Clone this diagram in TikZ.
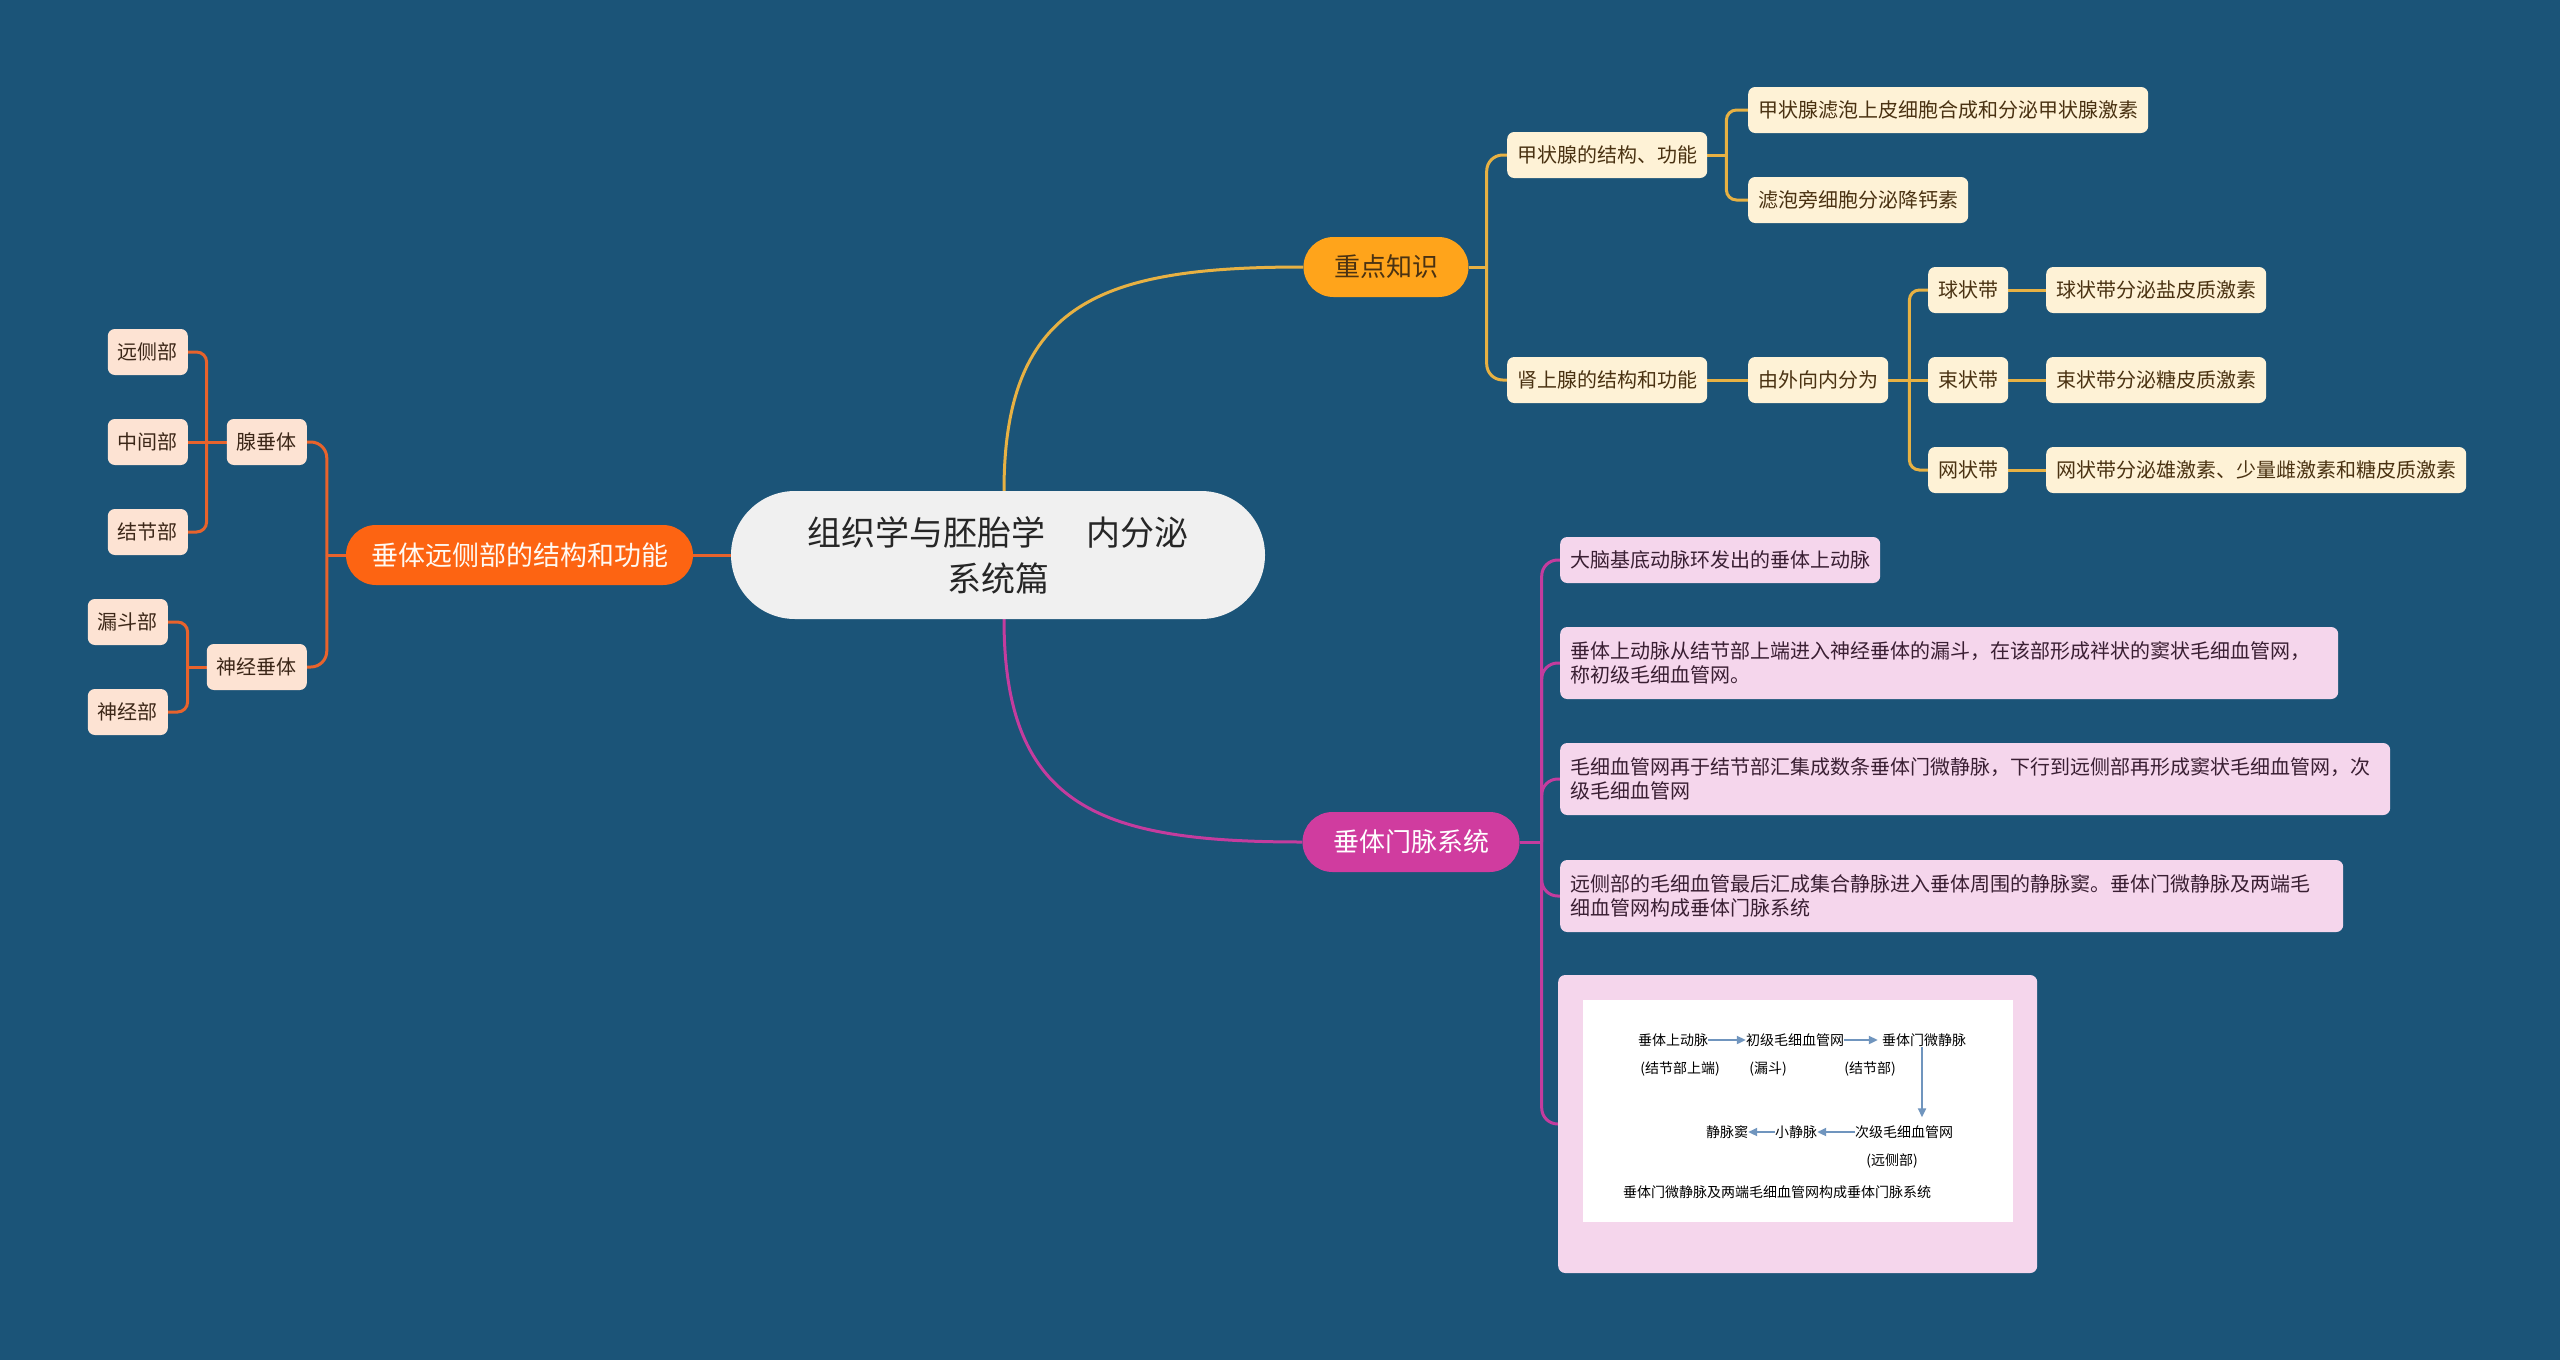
\documentclass[tikz,border=0pt]{standalone}
\usepackage{fontspec}
\setmainfont{Noto Sans CJK SC}
\usetikzlibrary{arrows.meta}
\definecolor{bgc}{HTML}{1B5478}
\definecolor{ylwline}{HTML}{E7B143}
\definecolor{ylwmain}{HTML}{FFA41B}
\definecolor{cream}{HTML}{FEF2D6}
\definecolor{ytext}{HTML}{4A3212}
\definecolor{orgline}{HTML}{E8632C}
\definecolor{orgmain}{HTML}{FD6412}
\definecolor{peach}{HTML}{FDE3D3}
\definecolor{ptext}{HTML}{3C2718}
\definecolor{magline}{HTML}{C43C9E}
\definecolor{magmain}{HTML}{D03C9F}
\definecolor{pink}{HTML}{F5D6EC}
\definecolor{mtext}{HTML}{3A1F33}
\definecolor{rootfill}{HTML}{F0F0F0}
\definecolor{arrc}{HTML}{7095BE}
\pgfdeclarelayer{bglayer}
\pgfsetlayers{bglayer,main}
\begin{document}
\begin{tikzpicture}[x=1pt,y=-1pt,
  every node/.style={font=\fontsize{20}{24}\selectfont, inner sep=0pt},
  basebox/.style={rectangle, rounded corners=7, minimum height=46, inner xsep=10, inner ysep=0},
  ysub/.style={basebox, fill=cream, text=ytext},
  psub/.style={basebox, fill=peach, text=ptext},
  msub/.style={basebox, fill=pink, text=mtext, align=left},
  mainbox/.style={rectangle, rounded corners=30, minimum height=60},
  ylw/.style={draw=ylwline, line width=3},
  org/.style={draw=orgline, line width=3},
  mag/.style={draw=magline, line width=3},
  itxt/.style={font=\fontsize{14}{16}\selectfont, text=black},
  arr/.style={draw=arrc, line width=2, -{Triangle[length=9,width=8]}}
]
\useasboundingbox (0,0) rectangle (2560,1360);

% root
\node[rectangle, rounded corners=64, fill=rootfill, minimum width=534, minimum height=128,
      text=black!85, align=center, font=\fontsize{34}{46}\selectfont] (root) at (998,555)
      {组织学与胚胎学\hspace{42pt}内分泌\\系统篇};

% main branches
\node[mainbox, fill=ylwmain, text=ytext, minimum width=165, font=\fontsize{26}{30}\selectfont] (zd) at (1386,267) {重点知识};
\node[mainbox, fill=magmain, text=white, minimum width=217, font=\fontsize{26}{30}\selectfont] (ct) at (1411,842) {垂体门脉系统};
\node[mainbox, fill=orgmain, text=white!95!orange, minimum width=347, font=\fontsize{27}{31}\selectfont] (yc) at (519.5,555) {垂体远侧部的结构和功能};

% yellow subs
\node[ysub, anchor=west] (y1) at (1507,155) {甲状腺的结构、功能};
\node[ysub, anchor=west] (y11) at (1748,110) {甲状腺滤泡上皮细胞合成和分泌甲状腺激素};
\node[ysub, anchor=west] (y12) at (1748,200) {滤泡旁细胞分泌降钙素};
\node[ysub, anchor=west] (y2) at (1507,380) {肾上腺的结构和功能};
\node[ysub, anchor=west] (y21) at (1748,380) {由外向内分为};
\node[ysub, anchor=west] (y211) at (1928,290) {球状带};
\node[ysub, anchor=west] (y212) at (2046,290) {球状带分泌盐皮质激素};
\node[ysub, anchor=west] (y221) at (1928,380) {束状带};
\node[ysub, anchor=west] (y222) at (2046,380) {束状带分泌糖皮质激素};
\node[ysub, anchor=west] (y231) at (1928,470) {网状带};
\node[ysub, anchor=west] (y232) at (2046,470) {网状带分泌雄激素、少量雌激素和糖皮质激素};

% peach subs
\node[psub, anchor=east] (p1) at (307,442) {腺垂体};
\node[psub, anchor=east] (p2) at (307,667) {神经垂体};
\node[psub, anchor=east] (p11) at (188,352) {远侧部};
\node[psub, anchor=east] (p12) at (188,442) {中间部};
\node[psub, anchor=east] (p13) at (188,532) {结节部};
\node[psub, anchor=east] (p21) at (168,622) {漏斗部};
\node[psub, anchor=east] (p22) at (168,712) {神经部};

% magenta subs
\node[msub, anchor=west] (m1) at (1560,560) {大脑基底动脉环发出的垂体上动脉};
\node[msub, anchor=west, text width=758, minimum height=72] (m2) at (1560,663)
  {垂体上动脉从结节部上端进入神经垂体的漏斗，在该部形成袢状的窦状毛细血管网，\\称初级毛细血管网。};
\node[msub, anchor=west, text width=810, minimum height=72] (m3) at (1560,779)
  {毛细血管网再于结节部汇集成数条垂体门微静脉，下行到远侧部再形成窦状毛细血管网，次\\级毛细血管网};
\node[msub, anchor=west, text width=763, minimum height=72] (m4) at (1560,896)
  {远侧部的毛细血管最后汇成集合静脉进入垂体周围的静脉窦。垂体门微静脉及两端毛\\细血管网构成垂体门脉系统};
\node[msub, anchor=west, minimum width=479, minimum height=298] (m5) at (1558,1124) {};
\node[rectangle, fill=white, minimum width=430, minimum height=222, anchor=north west] (wimg) at (1583,1000) {};

% inner flow diagram
\node[itxt] (t1) at (1673,1040) {垂体上动脉};
\node[itxt] (t2) at (1795,1040) {初级毛细血管网};
\node[itxt] (t3) at (1924,1040) {垂体门微静脉};
\node[itxt] (u1) at (1680,1069) {(结节部上端)};
\node[itxt] (u2) at (1768,1069) {(漏斗)};
\node[itxt] (u3) at (1870,1069) {(结节部)};
\node[itxt] (s1) at (1904,1132) {次级毛细血管网};
\node[itxt] (s2) at (1796,1132) {小静脉};
\node[itxt] (s3) at (1727,1132) {静脉窦};
\node[itxt] (u4) at (1892,1161) {(远侧部)};
\node[itxt] (bt) at (1777,1192) {垂体门微静脉及两端毛细血管网构成垂体门脉系统};

\begin{pgfonlayer}{bglayer}
\fill[bgc] (0,0) rectangle (2560,1360);
% root connectors
\draw[ylw] ([xshift=6pt]root.north) .. controls +(0,-190) and +(-200,0) .. (zd.west);
\draw[mag] ([xshift=6pt]root.south) .. controls +(0,190) and +(-200,0) .. (ct.west);
\draw[org] (root.west) -- (yc.east);
% yellow
\draw[ylw] (zd.east) -- ++(18,0) coordinate (zj);
\draw[ylw, rounded corners=16] (zj) -- (zj |- y1.west) -- (y1.west);
\draw[ylw, rounded corners=16] (zj) -- (zj |- y2.west) -- (y2.west);
\draw[ylw] (y1.east) -- ++(19,0) coordinate (j1);
\draw[ylw, rounded corners=10] (j1) -- (j1 |- y11.west) -- (y11.west);
\draw[ylw, rounded corners=10] (j1) -- (j1 |- y12.west) -- (y12.west);
\draw[ylw] (y2.east) -- (y21.west);
\draw[ylw] (y21.east) -- ++(21,0) coordinate (j2);
\draw[ylw, rounded corners=10] (j2) -- (j2 |- y211.west) -- (y211.west);
\draw[ylw] (j2) -- (y221.west);
\draw[ylw, rounded corners=10] (j2) -- (j2 |- y231.west) -- (y231.west);
\draw[ylw] (y211.east) -- (y212.west);
\draw[ylw] (y221.east) -- (y222.west);
\draw[ylw] (y231.east) -- (y232.west);
% orange
\draw[org] (yc.west) -- ++(-19,0) coordinate (oj);
\draw[org, rounded corners=16] (oj) -- (oj |- p1.east) -- (p1.east);
\draw[org, rounded corners=16] (oj) -- (oj |- p2.east) -- (p2.east);
\draw[org] (p1.west) -- ++(-20,0) coordinate (oj1);
\draw[org, rounded corners=10] (oj1) -- (oj1 |- p11.east) -- (p11.east);
\draw[org] (oj1) -- (p12.east);
\draw[org, rounded corners=10] (oj1) -- (oj1 |- p13.east) -- (p13.east);
\draw[org] (p2.west) -- ++(-19,0) coordinate (oj2);
\draw[org, rounded corners=10] (oj2) -- (oj2 |- p21.east) -- (p21.east);
\draw[org, rounded corners=10] (oj2) -- (oj2 |- p22.east) -- (p22.east);
% magenta
\draw[mag] (ct.east) -- ++(22,0) coordinate (mj);
\draw[mag, rounded corners=16] (mj) -- (mj |- m1.west) -- (m1.west);
\draw[mag, rounded corners=16] (mj) -- (mj |- m2.west) -- (m2.west);
\draw[mag, rounded corners=16] (mj) -- (mj |- m3.west) -- (m3.west);
\draw[mag, rounded corners=16] (mj) -- (mj |- m4.west) -- (m4.west);
\draw[mag, rounded corners=16] (mj) -- (mj |- m5.west) -- (m5.west);
\end{pgfonlayer}

% flow arrows
\draw[arr] (t1.east) -- (t2.west);
\draw[arr, shorten >=4pt] (t2.east) -- (t3.west);
\draw[arr, shorten >=8pt] ([xshift=-2pt]t3.south) -- ([xshift=-2pt]t3.south |- s1.north);
\draw[arr] (s1.west) -- (s2.east);
\draw[arr] (s2.west) -- (s3.east);
\end{tikzpicture}
\end{document}
